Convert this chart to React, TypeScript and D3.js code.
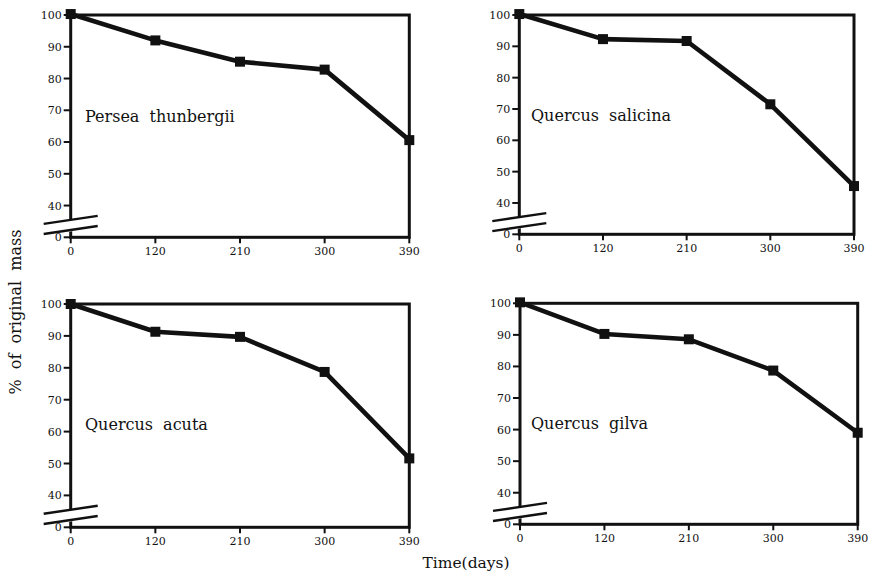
import React, { useEffect, useRef } from "react";
import * as d3 from "d3";

const days = ["0", "120", "210", "300", "390"];
const yTicks = [40, 50, 60, 70, 80, 90, 100];

const perseaValues = [100.3, 92, 85.3, 82.8, 60.6];
const salicinaValues = [100.3, 92.3, 91.7, 71.5, 45.4];
const acutaValues = [100, 91.3, 89.7, 78.7, 51.6];
const gilvaValues = [100.3, 90.3, 88.6, 78.7, 59];

const speciesNames = ["Persea thunbergii", "Quercus salicina", "Quercus acuta", "Quercus gilva"];
const speciesValues = [perseaValues, salicinaValues, acutaValues, gilvaValues];

// frame of each panel: left, right, top, bottom + label anchor
const panels = [
  { l: 70.7, r: 409.3, t: 15, b: 237.3, lx: 85, ly: 122 },
  { l: 519.3, r: 854, t: 15, b: 234.3, lx: 531, ly: 120.5 },
  { l: 70.7, r: 409.3, t: 304, b: 527.3, lx: 85, ly: 429.5 },
  { l: 520, r: 857.7, t: 303.3, b: 524.3, lx: 531, ly: 428.5 },
];

const FONT = "'DejaVu Serif', 'Liberation Serif', serif";

const App = () => {
  const ref = useRef<SVGSVGElement>(null);

  useEffect(() => {
    const svg = d3.select(ref.current);
    svg.selectAll("*").remove();

    panels.forEach((p, i) => {
      const g = svg.append("g");
      const x = d3.scalePoint<string>().domain(days).range([p.l, p.r]);
      // axis is broken: "0" sits one step below 40
      const y = d3.scaleLinear().domain([30, 100]).range([p.b, p.t]);

      // frame
      g.append("rect")
        .attr("x", p.l).attr("y", p.t)
        .attr("width", p.r - p.l).attr("height", p.b - p.t)
        .attr("fill", "none").attr("stroke", "#111").attr("stroke-width", 3);

      // y ticks
      yTicks.forEach(v => {
        g.append("line")
          .attr("x1", p.l - 7).attr("x2", p.l).attr("y1", y(v)).attr("y2", y(v))
          .attr("stroke", "#111").attr("stroke-width", 2);
        g.append("text")
          .attr("x", p.l - 9).attr("y", y(v) + 4)
          .attr("text-anchor", "end").attr("font-family", FONT).attr("font-size", 11)
          .attr("fill", "#111").text(v);
      });
      g.append("line")
        .attr("x1", p.l - 7).attr("x2", p.l).attr("y1", y(30)).attr("y2", y(30))
        .attr("stroke", "#111").attr("stroke-width", 2);
      g.append("text")
        .attr("x", p.l - 9).attr("y", y(30) + 4)
        .attr("text-anchor", "end").attr("font-family", FONT).attr("font-size", 11)
        .attr("fill", "#111").text("0");

      // x ticks
      days.forEach(d => {
        g.append("line")
          .attr("x1", x(d)).attr("x2", x(d)).attr("y1", p.b).attr("y2", p.b + 6)
          .attr("stroke", "#111").attr("stroke-width", 2);
        g.append("text")
          .attr("x", x(d)).attr("y", p.b + 18)
          .attr("text-anchor", "middle").attr("font-family", FONT).attr("font-size", 11)
          .attr("fill", "#111").text(d);
      });

      // axis break
      const yb1 = y(35.5), yb2 = y(32.3);
      g.append("polygon")
        .attr("points", `${p.l - 3},${yb1 + 1} ${p.l + 3},${yb1} ${p.l + 3},${yb2 + 1} ${p.l - 3},${yb2 + 2}`)
        .attr("fill", "#fff");
      [yb1, yb2].forEach(yy => {
        g.append("line")
          .attr("x1", p.l - 27).attr("y1", yy + 4)
          .attr("x2", p.l + 27).attr("y2", yy - 4)
          .attr("stroke", "#111").attr("stroke-width", 2.4);
      });

      // series
      const vals = speciesValues[i];
      const line = d3.line<number>()
        .x((_, k) => x(days[k]) as number)
        .y(v => y(v));
      g.append("path")
        .attr("d", line(vals))
        .attr("fill", "none").attr("stroke", "#111").attr("stroke-width", 4.6)
        .attr("stroke-linejoin", "round");
      g.selectAll("rect.mk")
        .data(vals)
        .enter()
        .append("rect")
        .attr("class", "mk")
        .attr("x", (_, k) => (x(days[k]) as number) - 5)
        .attr("y", v => y(v) - 5)
        .attr("width", 10).attr("height", 10)
        .attr("fill", "#111");

      g.append("text")
        .attr("x", p.lx).attr("y", p.ly)
        .attr("font-family", FONT).attr("font-size", 16)
        .attr("fill", "#111")
        .attr("word-spacing", 5)
        .text(speciesNames[i]);
    });

    svg.append("text")
      .attr("transform", "translate(21,312) rotate(-90)")
      .attr("text-anchor", "middle").attr("font-family", FONT).attr("font-size", 16)
      .attr("fill", "#111").attr("word-spacing", 5)
      .text("% of original mass");

    svg.append("text")
      .attr("x", 466).attr("y", 568)
      .attr("text-anchor", "middle").attr("font-family", FONT).attr("font-size", 15.5)
      .attr("fill", "#111")
      .text("Time(days)");
  }, []);

  return (
    <svg
      ref={ref}
      width={870}
      height={574}
      style={{ position: "absolute", left: 0, top: 0, background: "#fff" }}
    ></svg>
  );
};

export default App;
